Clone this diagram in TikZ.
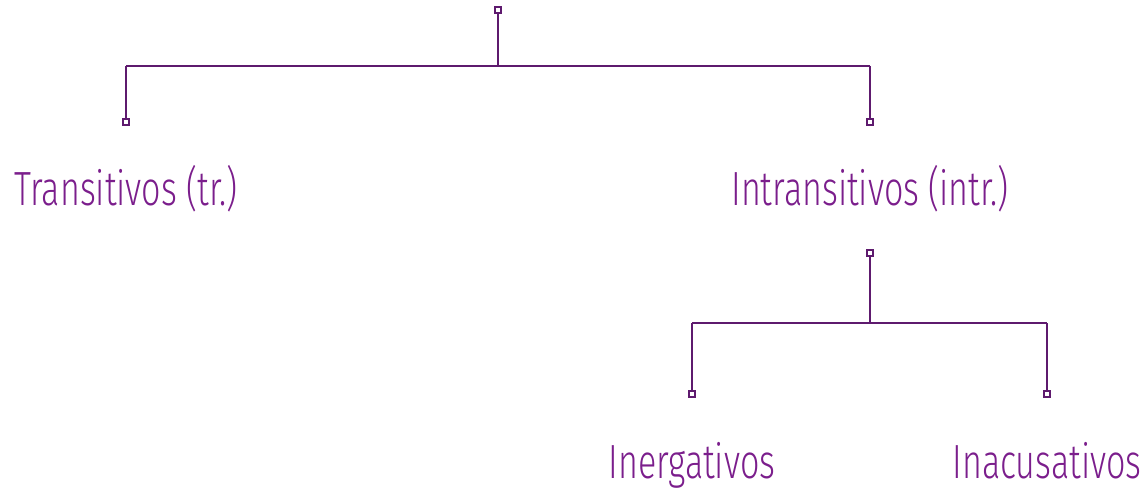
\documentclass[tikz,border=0pt]{standalone}
\usepackage{fontspec}
\setmainfont{Fira Sans Light}[FakeStretch=0.71]
\definecolor{linec}{HTML}{5E1A6E}
\definecolor{textc}{HTML}{7B1E8C}
\begin{document}
\begin{tikzpicture}[x=1pt,y=-1pt,
  conn/.style={draw=linec,line width=2pt},
  sq/.style={draw=linec,fill=white,line width=1.6pt,minimum size=6pt,inner sep=0pt,outer sep=0pt,rectangle},
  lbl/.style={text=textc,font=\fontsize{48}{50}\selectfont,anchor=base,inner sep=0pt}]
\useasboundingbox (0,0) rectangle (1145,489);
\node[sq] (r) at (498,10) {};
\coordinate (h1) at (498,66);
\coordinate (hl) at (126,66);
\coordinate (hr) at (870,66);
\node[sq] (s1) at (126,122) {};
\node[sq] (s2) at (870,122) {};
\node[lbl] (t1) at (126,205) {Transitivos (tr.)};
\node[lbl] (t2) at (870,205) {Intransitivos (intr.)};
\node[sq] (r2) at (870,253) {};
\coordinate (h2) at (870,323);
\coordinate (hl2) at (692,323);
\coordinate (hr2) at (1047,323);
\node[sq] (s3) at (692,394) {};
\node[sq] (s4) at (1047,394) {};
\node[lbl] (t3) at (692,478) {Inergativos};
\node[lbl] (t4) at (1047,478) {Inacusativos};
\draw[conn] (r) -- (h1);
\draw[conn] (hl) -- (hr);
\draw[conn] (hl) -- (s1);
\draw[conn] (hr) -- (s2);
\draw[conn] (r2) -- (h2);
\draw[conn] (hl2) -- (hr2);
\draw[conn] (hl2) -- (s3);
\draw[conn] (hr2) -- (s4);
\end{tikzpicture}
\end{document}
